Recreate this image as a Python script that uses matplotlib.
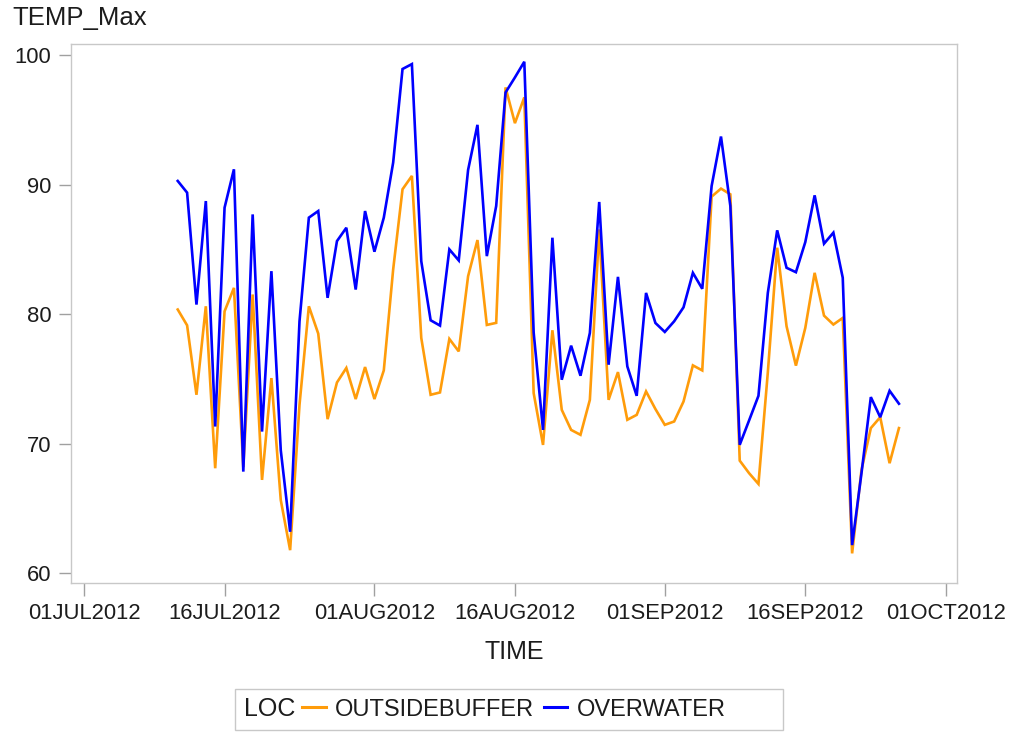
import matplotlib
matplotlib.use("Agg")
import matplotlib.pyplot as plt
from matplotlib.offsetbox import HPacker, DrawingArea
import pandas as pd

plt.rcParams['font.family'] = ['Liberation Sans', 'DejaVu Sans']

# ---- data ----
start_date = "2012-07-11"
outsidebuffer = [80.36, 79.14, 73.78, 80.61, 68.11, 80.22, 82.03, 68.20, 81.52, 67.21,
                 75.07, 65.66, 61.79, 73.00, 80.61, 78.50, 71.90, 74.73, 75.85, 73.45,
                 75.92, 73.45, 75.66, 83.45, 89.64, 90.67, 78.17, 73.78, 73.96, 78.09,
                 77.13, 82.93, 85.72, 79.17, 79.33, 97.50, 94.74, 96.73, 73.91, 69.91,
                 78.76, 72.62, 71.07, 70.69, 73.39, 86.54, 73.39, 75.53, 71.85, 72.23,
                 74.04, 72.68, 71.46, 71.72, 73.26, 76.05, 75.66, 89.07, 89.69, 89.25,
                 68.70, 67.73, 66.90, 75.50, 85.13, 79.07, 76.03, 78.94, 83.19, 79.89,
                 79.20, 79.71, 61.54, 67.98, 71.21, 72.05, 68.50, 71.21]
overwater = [90.28, 89.38, 80.74, 88.73, 71.33, 88.22, 91.18, 67.85, 87.70, 70.94,
             83.32, 69.50, 63.21, 79.45, 87.45, 87.96, 81.26, 85.64, 86.67, 81.90,
             87.96, 84.82, 87.45, 91.70, 98.92, 99.30, 84.09, 79.53, 79.12, 85.00,
             84.15, 91.13, 94.61, 84.48, 88.35, 97.11, 98.27, 99.48, 78.58, 71.07,
             85.90, 74.94, 77.57, 75.25, 78.55, 88.66, 76.10, 82.88, 75.97, 73.70,
             81.64, 79.32, 78.63, 79.45, 80.53, 83.19, 81.96, 89.89, 93.71, 88.35,
             69.92, 71.80, 73.70, 81.64, 86.47, 83.58, 83.24, 85.56, 89.17, 85.44,
             86.29, 82.81, 62.18, 67.73, 73.60, 72.05, 74.09, 73.09]
dates = pd.date_range(start_date, periods=len(overwater), freq="D")
series_names = ["OUTSIDEBUFFER", "OVERWATER"]
series_colors = ["#FF9C0A", "#0000FF"]
x_ticks = pd.to_datetime(["2012-07-01", "2012-07-16", "2012-08-01", "2012-08-16",
                          "2012-09-01", "2012-09-16", "2012-10-01"])
y_ticks = [60, 70, 80, 90, 100]

# ---- figure ----
fig = plt.figure(figsize=(10.15, 7.32), dpi=100)
ax = fig.add_axes([0.070, 0.2031, 0.8726, 0.7368])

text_color = "#1c1c1c"
lines = []
for vals, name, col in zip([outsidebuffer, overwater], series_names, series_colors):
    ln, = ax.plot(dates, vals, color=col, lw=1.9, label=name, solid_joinstyle='miter')
    lines.append(ln)

ax.set_xlim(pd.Timestamp("2012-07-01") - pd.Timedelta(days=1.39),
            pd.Timestamp("2012-10-01") + pd.Timedelta(days=1.17))
ax.set_ylim(59.23, 100.85)
ax.set_xticks(x_ticks)
ax.set_xticklabels([d.strftime("%d%b%Y").upper() for d in x_ticks])
ax.set_yticks(y_ticks)
ax.set_yticklabels([str(v) for v in y_ticks])

for s in ax.spines.values():
    s.set_color("#C8C8C8")
    s.set_linewidth(1.0)
ax.tick_params(axis='both', direction='out', length=9, width=1.0, color="#A0A0A0",
               labelsize=15.8, labelcolor=text_color, pad=5)

ax.set_xlabel("TIME", fontsize=18, color=text_color)
ax.xaxis.set_label_coords(0.5, -0.127)
ax.xaxis.label.set_va('center')

fig.text(12 / 1015, 1 - 18 / 732, "TEMP_Max", fontsize=18.5, color=text_color,
         ha='left', va='center')

leg = fig.legend(lines, series_names, loc='center',
                 bbox_to_anchor=(509 / 1015, 1 - 709.5 / 732),
                 ncol=2, fontsize=17, title="LOC", title_fontsize=18,
                 frameon=True, fancybox=False, shadow=False, framealpha=1,
                 edgecolor="#C8C8C8", borderpad=0.38, handlelength=1.0,
                 handletextpad=0.4, columnspacing=0.4, borderaxespad=0)
for t in leg.get_texts():
    t.set_color(text_color)
leg.get_title().set_color(text_color)
leg.get_frame().set_linewidth(1.0)
for h in leg.legend_handles:
    h.set_linewidth(2.2)
try:
    fs = leg._fontsize
    spacer = DrawingArea(30, 1, 0, 0)
    newbox = HPacker(pad=leg.borderpad * fs, sep=0.3 * fs, align="center",
                     children=[leg._legend_title_box, leg._legend_handle_box, spacer])
    newbox.set_figure(fig)
    newbox.axes = leg.axes
    leg._legend_box = newbox
    leg._legend_box.set_offset(leg._findoffset)
except Exception:
    pass

fig.savefig("out.png", dpi=100, facecolor="white")
